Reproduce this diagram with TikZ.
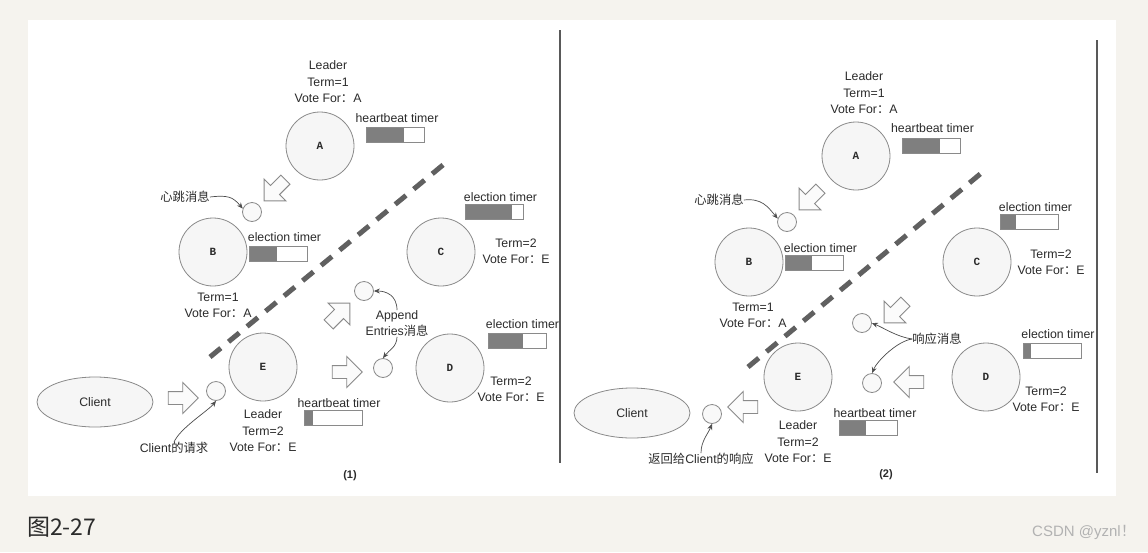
\documentclass[tikz,border=0pt]{standalone}
\usepackage{fontspec}
\setmainfont{Liberation Sans}
\newfontfamily\cjk{Noto Sans CJK SC}
\newfontfamily\srvfont{Liberation Mono}
\usetikzlibrary{arrows.meta,shapes.geometric,shapes.arrows}
\definecolor{ink}{HTML}{2B2B2B}
\definecolor{paper}{HTML}{F5F3EE}
\definecolor{edge}{HTML}{8A8A8A}
\definecolor{barfill}{HTML}{7F7F7F}
% timer bar: left, top, filled width
\newcommand{\timerbar}[3]{%
  \fill[barfill] (#1,#2) rectangle ++(#3,15);
  \draw[edge, line width=0.8pt] (#1,#2) rectangle ++(58,15);}
\newcommand{\vf}{Vote For{\cjk ：}}

\begin{document}
\begin{tikzpicture}[x=1pt, y=-1pt,
  font=\fontsize{12.3}{16.5}\selectfont, text=ink,
  lbl/.style={align=center, inner sep=0pt},
  srv/.style={circle, draw=edge, fill=gray!7, line width=0.8pt,
              minimum size=68pt, inner sep=0pt,
              font=\srvfont\bfseries\fontsize{11}{11}\selectfont},
  msg/.style={circle, draw=edge, fill=gray!5, line width=0.8pt,
              minimum size=19pt, inner sep=0pt},
  cli/.style={ellipse, draw=edge, fill=gray!7, line width=0.8pt,
              minimum width=116pt, minimum height=50pt},
  blk/.style={single arrow, draw=edge, fill=gray!3, line width=0.9pt,
              minimum height=30pt, single arrow head extend=9pt, inner sep=6pt},
  arr/.style={-{Stealth[length=6pt,width=5pt]}, draw=gray!60!black, line width=0.7pt},
  cut/.style={draw=gray!75!black, line width=5pt, dash pattern=on 14pt off 10pt},
  panel/.style={draw=gray!70!black, line width=1.2pt},
]
\useasboundingbox (0,0) rectangle (1148,552);
\fill[paper] (0,0) rectangle (1148,552);
\fill[white] (28,20) rectangle (1116,496);
\draw[panel] (560,30) -- (560,463);
\draw[panel] (1097,40) -- (1097,473);

% ---- Panel (1)
\coordinate (cutA1) at (210,357);
\coordinate (cutB1) at (449,160);
\draw[cut] (cutA1) -- (cutB1);
% servers
\node[srv] (a1) at (320,146) {A};
\node[srv] (b1) at (213,252) {B};
\node[srv] (c1) at (441,252) {C};
\node[srv] (d1) at (450,368) {D};
\node[srv] (e1) at (263,367) {E};
\node[cli] (cl1) at (95,402) {Client};
% state labels
\node[lbl] (sa1) at (328,82)    {Leader\\Term=1\\\vf A};
\node[lbl] (sb1) at (218,305.5) {Term=1\\\vf A};
\node[lbl] (sc1) at (516,251.5) {Term=2\\\vf E};
\node[lbl] (sd1) at (511,389.5) {Term=2\\\vf E};
\node[lbl] (se1) at (263,431)   {Leader\\Term=2\\\vf E};
% timers
\node[lbl] (ta1) at (397,118)   {heartbeat timer}; \timerbar{366}{127}{38}
\node[lbl] (tb1) at (284.5,237) {election timer};  \timerbar{249}{246}{28}
\node[lbl] (tc1) at (500.5,197) {election timer};  \timerbar{465}{204}{47}
\node[lbl] (td1) at (522.5,324) {election timer};  \timerbar{488}{333}{35}
\node[lbl] (te1) at (339,403)   {heartbeat timer}; \timerbar{304}{410}{9}
% messages
\node[msg] (m1) at (252,212) {};
\node[msg] (m0) at (216,391) {};
\node[msg] (m2) at (364,291) {};
\node[msg] (m3) at (383,368) {};
\node[blk, rotate=225] (ba1) at (277,188) {};
\node[blk] (bc1) at (180,398) {};
\node[blk, rotate=45] (bu1) at (337,316) {};
\node[blk] (be1) at (344,372) {};
\node[lbl] (hb1) at (185,197) {\cjk 心跳消息};
\node[lbl] (req1) at (174,448) {Client{\cjk 的请求}};
\node[lbl] (ae1) at (397,323.5) {Append\\Entries{\cjk 消息}};
\draw[arr] (hb1.east) .. controls +(18,-2) and +(-10,-12) .. (m1.160);
\draw[arr] (req1.north) .. controls +(6,-14) and +(-8,10) .. (m0.south);
\draw[arr] (ae1.north) .. controls +(0,-15) and +(12,0) .. (m2.east);
\draw[arr] (ae1.south) .. controls +(0,10) and +(6,-8) .. (m3.north);
\node[lbl, font=\bfseries\fontsize{11}{11}\selectfont] (p1) at (350,476) {(1)};

% ---- Panel (2)
\coordinate (cutA2) at (748,367);
\coordinate (cutB2) at (985,170);
\draw[cut] (cutA2) -- (cutB2);
% servers
\node[srv] (a2) at (856,156) {A};
\node[srv] (b2) at (749,262) {B};
\node[srv] (c2) at (977,262) {C};
\node[srv] (d2) at (986,377) {D};
\node[srv] (e2) at (798,377) {E};
\node[cli] (cl2) at (632,413) {Client};
% state labels
\node[lbl] (sa2) at (864,93)     {Leader\\Term=1\\\vf A};
\node[lbl] (sb2) at (753,315.5)  {Term=1\\\vf A};
\node[lbl] (sc2) at (1051,262.5) {Term=2\\\vf E};
\node[lbl] (sd2) at (1046,399.5) {Term=2\\\vf E};
\node[lbl] (se2) at (798,442)    {Leader\\Term=2\\\vf E};
% timers
\node[lbl] (ta2) at (932.5,128) {heartbeat timer}; \timerbar{902}{138}{38}
\node[lbl] (tb2) at (820.5,248) {election timer};  \timerbar{785}{255}{27}
\node[lbl] (tc2) at (1035.5,207) {election timer}; \timerbar{1000}{214}{16}
\node[lbl] (td2) at (1058,334)  {election timer};  \timerbar{1023}{343}{8}
\node[lbl] (te2) at (875,413)   {heartbeat timer}; \timerbar{839}{420}{27}
% messages
\node[msg] (m4) at (787,222) {};
\node[msg] (m6) at (862,323) {};
\node[msg] (m7) at (872,383) {};
\node[msg] (m5) at (712,414) {};
\node[blk, rotate=225] (ba2) at (812,197) {};
\node[blk, rotate=225] (bc2) at (897,310) {};
\node[blk, rotate=180] (bd2) at (912,382) {};
\node[blk, rotate=180] (be2) at (746,407) {};
\node[lbl] (hb2) at (719,200) {\cjk 心跳消息};
\node[lbl] (resp) at (937,339) {\cjk 响应消息};
\node[lbl] (ret) at (701,459) {{\cjk 返回给}Client{\cjk 的响应}};
\draw[arr] (hb2.east) .. controls +(18,-2) and +(-10,-12) .. (m4.160);
\draw[arr] (resp.west) .. controls +(-15,-2) and +(12,5) .. (m6.east);
\draw[arr] (resp.west) .. controls +(-15,2) and +(5,-12) .. (m7.north);
\draw[arr] (ret.north) .. controls +(0,-12) and +(-4,10) .. (m5.south);
\node[lbl, font=\bfseries\fontsize{11}{11}\selectfont] (p2) at (886,475) {(2)};

% caption
\node[anchor=west, inner sep=0pt, font=\cjk\fontsize{23}{23}\selectfont] (fig) at (27,527) {图2-27};
\node[anchor=east, inner sep=0pt, text=gray!60, font=\fontsize{15}{15}\selectfont] (wm) at (1136,532) {CSDN @yznl{\cjk ！}};
\end{tikzpicture}
\end{document}
